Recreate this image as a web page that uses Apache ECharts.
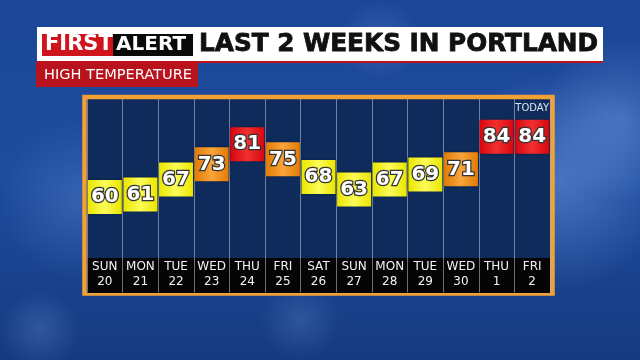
<!DOCTYPE html>
<html><head><meta charset="utf-8">
<script src="https://cdn.jsdelivr.net/npm/echarts@6/dist/echarts.min.js"></script>
<style>html,body{margin:0;padding:0;background:#1a4590}#c{width:640px;height:360px}</style>
</head><body><div id="c"></div>
<script>
var days = ['SUN','MON','TUE','WED','THU','FRI','SAT','SUN','MON','TUE','WED','THU','FRI'];
var dates = ['20','21','22','23','24','25','26','27','28','29','30','1','2'];
var highs = [60,61,67,73,81,75,68,63,67,69,71,84,84];
var titleMain = 'LAST 2 WEEKS IN PORTLAND';
var subTitle = 'HIGH TEMPERATURE';
var todayLabel = 'TODAY';

var categories = days.map(function(d,i){return d+'\n'+dates[i];});

function boxColor(v){
  var edge, mid;
  if (v >= 80){ edge='#d8060f'; mid='#f23030'; }
  else if (v >= 70){ edge='#e27a05'; mid='#f8a53c'; }
  else { edge='#eae500'; mid='#fcfc58'; }
  return new echarts.graphic.LinearGradient(0,0,1,0,[
    {offset:0,color:edge},{offset:0.5,color:mid},{offset:1,color:edge}]);
}

var chart = echarts.init(document.getElementById('c'), null, {renderer:'canvas'});

function cloud(cx,cy,rx,ry,a){
  return {type:'ellipse', z:-100, silent:true,
    shape:{cx:cx,cy:cy,rx:rx,ry:ry},
    style:{fill:new echarts.graphic.RadialGradient(0.5,0.5,0.5,[
      {offset:0,color:'rgba(150,190,255,'+a+')'},{offset:1,color:'rgba(150,190,255,0)'}])}};
}

chart.setOption({
  animation:false,
  backgroundColor: new echarts.graphic.LinearGradient(0,0,0,1,[
    {offset:0,color:'#1c4798'},{offset:0.5,color:'#1d4c9e'},{offset:1,color:'#163a80'}]),
  graphic:[
    cloud(560,180,120,110,0.35),
    cloud(620,120,80,90,0.3),
    cloud(80,200,90,80,0.2),
    cloud(300,320,200,40,0.18),
    cloud(40,330,80,40,0.2),
    cloud(380,40,140,40,0.18),
    // title bar
    {type:'rect', z:50, shape:{x:37,y:27,width:566,height:34}, style:{fill:'#ffffff'}},
    {type:'rect', z:50, shape:{x:37,y:61,width:566,height:2}, style:{fill:'#c0121c'}},
    {type:'rect', z:51, shape:{x:42,y:34,width:71,height:22}, style:{fill:'#d0141e'}},
    {type:'rect', z:51, shape:{x:113,y:34,width:80,height:22}, style:{fill:'#0a0a0a'}},
    {type:'text', z:52, x:45, y:45, style:{text:'FIRST', fill:'#fff', font:'bold 21px "DejaVu Sans"', textVerticalAlign:'middle'}},
    {type:'text', z:52, x:116, y:45, scaleX:1.0, style:{text:'ALERT', fill:'#fff', font:'bold 20px "DejaVu Sans"', textVerticalAlign:'middle'}},
    {type:'text', z:52, x:199, y:45, scaleX:1.03, style:{text:titleMain, fill:'#111', font:'bold 24px "DejaVu Sans"', textVerticalAlign:'middle', stroke:'#111', lineWidth:0.8}},
    {type:'rect', z:50, shape:{x:36,y:63,width:162,height:24}, style:{fill:'#b8121c'}},
    {type:'text', z:52, x:44, y:75.5, scaleX:1.04, style:{text:subTitle, fill:'#fff', font:'14px "DejaVu Sans"', textVerticalAlign:'middle'}},
    // panel
    {type:'rect', z:-10, shape:{x:84.5,y:97,width:468,height:196.5}, style:{fill:'#0e2b5c', stroke:'#f2a134', lineWidth:4.5}},
    {type:'rect', z:-9, shape:{x:87,y:258,width:463,height:35}, style:{fill:'#050505'}},
    {type:'text', z:20, x:549, y:108, style:{text:todayLabel, fill:'#dfe6f2', font:'10px "DejaVu Sans"', textAlign:'right', textVerticalAlign:'middle'}}
  ],
  grid:{left:87, top:99, width:463, height:193.5},
  xAxis:{type:'category', data:categories, boundaryGap:true,
    axisLine:{show:false}, axisTick:{show:false},
    splitLine:{show:true, interval:0, lineStyle:{color:'rgba(190,200,215,0.55)', width:1}},
    axisLabel:{inside:true, interval:0, margin:3, color:'#f2f2f2', fontFamily:'DejaVu Sans', fontSize:12, lineHeight:15, align:'center'}},
  yAxis:{type:'value', min:22, max:99, show:false, splitLine:{show:false}},
  series:[{
    type:'scatter', symbol:'rect', symbolSize:[34,34],
    itemStyle:{opacity:1},
    data: highs.map(function(v){return {value:v, itemStyle:{opacity:1, color:boxColor(v), shadowBlur:3, shadowColor:'rgba(0,0,0,0.5)'}};}),
    label:{show:true, position:'inside', formatter:function(p){return p.value;},
      color:'#ffffff', fontFamily:'DejaVu Sans', fontWeight:'bold', fontSize:20,
      textBorderColor:'#333333', textBorderWidth:2.5}
  }]
});
</script></body></html>
